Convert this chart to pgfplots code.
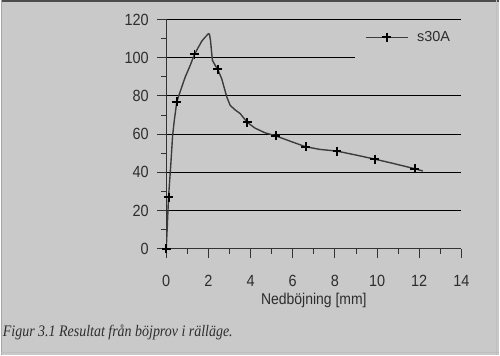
\documentclass[border=0pt]{standalone}
\usepackage{fontspec}
\setmainfont{Liberation Sans}
\newfontfamily\capfont{Liberation Serif}
\usepackage{pgfplots}
\pgfplotsset{compat=1.18}
\definecolor{bg}{RGB}{201,201,201}
\definecolor{curve}{RGB}{60,60,60}
\definecolor{txt}{RGB}{45,45,45}
\begin{document}
\begin{tikzpicture}
\fill[bg] (0pt,0pt) rectangle (500pt,356pt);
\draw[line width=1.5pt, black!70] (0pt,355.25pt) -- (500pt,355.25pt);
\draw[line width=1pt, black!35] (0.5pt,0pt) -- (0.5pt,356pt);
\draw[line width=0.8pt, black!25] (0pt,3.5pt) -- (500pt,3.5pt);
\draw[line width=0.8pt, black!25] (497.5pt,0pt) -- (497.5pt,356pt);
\begin{axis}[
 at={(166pt,107pt)}, anchor=south west,
 scale only axis, width=296pt, height=230pt,
 xmin=0, xmax=14, ymin=0, ymax=120,
 axis x line*=bottom, axis y line*=left,
 axis line style={black!80, line width=0.9pt, -},
 xtick={0,2,...,14}, ytick={0,20,...,120},
 minor x tick num=1, minor y tick num=1,
 tick align=outside,
 major tick length=9pt, minor tick length=5pt,
 tick style={black!80, line width=0.9pt},
 ymajorgrids, grid style={black, line width=0.8pt},
 /pgf/number format/assume math mode=true,
 tick label style={font=\fontsize{14.5}{16}\selectfont, text=txt, yscale=1.12},
 xticklabel style={yshift=-12pt},
 yticklabel style={xshift=-5pt},
 xlabel={Nedböjning [mm]},
 xlabel style={font=\fontsize{14}{16}\selectfont, text=txt, yscale=1.12, yshift=1pt},
 legend style={draw=none, fill=none, at={(0.662,0.922)}, anchor=west,
   font=\fontsize{14.5}{16}\selectfont, text=txt},
 legend cell align=left,
 legend image code/.code={
   \draw[#1,mark=none] (0pt,0pt) -- (43pt,0pt);
   \draw[#1] plot coordinates {(21.5pt,0pt)};
 },
]
\fill[bg] (axis cs:8.95,97) rectangle (axis cs:14.3,103);
\addplot[curve, line width=1.4pt, forget plot] coordinates {
(0,0) (0.05,12) (0.11,27.3) (0.22,44.7) (0.3,59) (0.38,67) (0.5,76.9)
(0.7,83.5) (0.9,89.9) (1.1,95) (1.34,101.7) (1.5,105) (1.69,108.7)
(1.85,110.8) (2.0,112.5) (2.05,112.3) (2.1,109) (2.15,103) (2.19,98.6)
(2.32,96) (2.44,93.9) (2.63,89) (2.87,79.5) (3.03,75.1) (3.25,72.8)
(3.5,70.8) (3.85,66.1) (4.2,63.2) (4.68,60.7) (5.19,59.1) (5.9,56.2)
(6.61,53.4) (7.28,52) (8.1,51.1) (9.02,49) (9.89,46.9) (10.75,44.7)
(11.78,41.9) (12.17,40.7)
};
\addplot[only marks, mark=+, mark size=4.5pt, mark options={black, line width=2pt}, forget plot] coordinates {
(0,0) (0.11,27) (0.5,76.9) (1.34,101.7) (2.44,93.9) (3.85,66.1)
(5.19,59.1) (6.61,53.4) (8.1,51.1) (9.89,46.9) (11.78,41.9)
};
\addlegendimage{curve, line width=1.4pt, mark=+, mark size=4.5pt, mark options={black, line width=2pt}}
\addlegendentry{\hspace{6pt}s30A}
\end{axis}
\node[anchor=base west, inner sep=0pt, font=\capfont\itshape\fontsize{14}{15}\selectfont, text=txt, yscale=1.15] at (2pt,19pt) {Figur 3.1 Resultat från böjprov i rälläge.};
\end{tikzpicture}
\end{document}
